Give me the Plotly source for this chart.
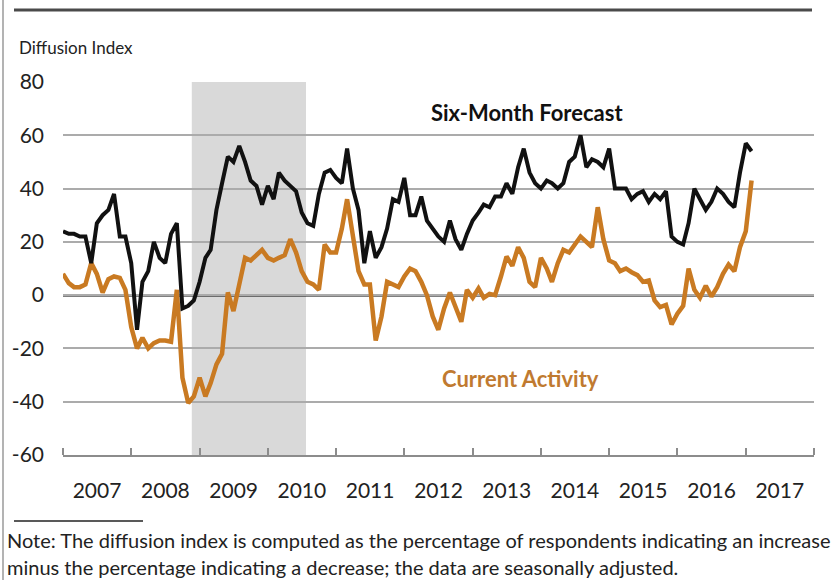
import plotly.graph_objects as go
import pandas as pd

# ---- data ----
months = pd.date_range("2007-01-01", periods=122, freq="MS")

six_month_forecast = [
    24, 23, 23, 22, 22, 12, 27, 30, 32, 38, 22, 22,        # 2007
    12, -13, 5, 9, 20, 14, 12, 23, 27, -5, -4, -2,         # 2008
    5, 14, 17, 32, 42, 52, 50, 56, 50, 43, 41, 34,         # 2009
    41, 36, 46, 43, 41, 39, 31, 27, 26, 38, 46, 47,        # 2010
    44, 42, 55, 40, 32, 12, 24, 14, 18, 25, 36, 35,        # 2011
    44, 30, 30, 37, 28, 25, 22, 20, 28, 21, 17, 23,        # 2012
    28, 31, 34, 33, 37, 37, 42, 38, 48, 55, 46, 42,        # 2013
    40, 43, 42, 40, 42, 50, 52, 60, 48, 51, 50, 48,        # 2014
    55, 40, 40, 40, 36, 38, 39, 35, 38, 36, 39, 22,        # 2015
    20, 19, 27, 40, 36, 32, 35, 40, 38, 35, 33, 46,        # 2016
    57, 54,                                                # 2017
]

current_activity = [
    8, 4.5, 3, 3, 4, 12, 8, 1, 6, 7, 6.5, 2,               # 2007
    -12, -20, -16, -20, -18, -17, -17, -17.5, 2, -31, -40.5, -38,  # 2008
    -31, -38, -33, -26, -22, 1, -6, 5, 14, 13, 15, 17,     # 2009
    14, 13, 14, 15, 21, 16, 9, 5, 4, 2, 19, 16,            # 2010
    16, 25, 36, 23, 9, 4, 4, -17, -8, 5, 4, 3,             # 2011
    7, 10, 9, 5, 0, -8, -13, -5, 1, -4, -10, 2,            # 2012
    -1, 2.5, -1, 0.5, 0, 7, 14.5, 11, 18, 14, 5, 3,        # 2013
    14, 10, 5, 12, 17, 16, 19, 22, 20, 18, 33, 21,         # 2014
    13, 12, 9, 10, 8.6, 7.5, 5, 5.5, -2, -4.5, -3.7, -11,  # 2015
    -7, -4, 10, 2, -1, 3.5, -0.5, 3, 8, 11.5, 9, 18,       # 2016
    24, 43,                                                # 2017
]

year_labels = [str(y) for y in range(2007, 2018)]
year_label_pos = [f"{y}-07-02" for y in range(2007, 2018)]
y_ticks = [-60, -40, -20, 0, 20, 40, 60, 80]
y_tick_text = [str(v) for v in y_ticks]

shade_start = "2008-11-20"
shade_end = "2010-07-24"

# ---- layout geometry ----
W, H = 836, 580
L, R, T, B = 63, 22, 82, 125
PW, PH = W - L - R, H - T - B


def px_x(px):
    return (px - L) / PW


def px_y(py):
    return (H - B - py) / PH


FONT = "Lato, 'Open Sans', sans-serif"
BLACK = "#111111"
ORANGE = "#c97a22"
GRID = "#ababab"

fig = go.Figure()
fig.add_trace(go.Scatter(x=months, y=current_activity, mode="lines",
                         line=dict(color=ORANGE, width=4.5), name="Current Activity",
                         hoverinfo="x+y"))
fig.add_trace(go.Scatter(x=months, y=six_month_forecast, mode="lines",
                         line=dict(color=BLACK, width=4), name="Six-Month Forecast",
                         hoverinfo="x+y"))

shapes = [
    dict(type="rect", xref="x", yref="paper", x0=shade_start, x1=shade_end,
         y0=0, y1=1, fillcolor="#d9d9d9", line=dict(width=0), layer="between"),
    dict(type="line", xref="paper", yref="y", x0=0, x1=1, y0=0, y1=0,
         line=dict(color="#000000", width=2.5), layer="between"),
    # top rule
    dict(type="line", xref="paper", yref="paper", x0=px_x(14), x1=px_x(812),
         y0=px_y(10), y1=px_y(10), line=dict(color="#4a4a4a", width=3)),
    # short footnote rule
    dict(type="line", xref="paper", yref="paper", x0=px_x(14), x1=px_x(143),
         y0=px_y(521), y1=px_y(521), line=dict(color="#222222", width=1.5)),
    # left border
    dict(type="line", xref="paper", yref="paper", x0=px_x(3), x1=px_x(3),
         y0=px_y(0), y1=px_y(580), line=dict(color="#9a9a9a", width=1.5)),
]

annotations = [
    dict(text="Diffusion Index", xref="paper", yref="paper", x=px_x(17), y=px_y(48),
         xanchor="left", yanchor="middle", showarrow=False,
         font=dict(family=FONT, size=17, color="#222222")),
    dict(text="<b>Six-Month Forecast</b>", xref="paper", yref="paper", x=px_x(527), y=px_y(112),
         xanchor="center", yanchor="middle", showarrow=False,
         font=dict(family=FONT, size=22, color="#111111")),
    dict(text="<b>Current Activity</b>", xref="paper", yref="paper", x=px_x(520), y=px_y(378),
         xanchor="center", yanchor="middle", showarrow=False,
         font=dict(family=FONT, size=22, color="#c07a30")),
    dict(text="Note: The diffusion index is computed as the percentage of respondents indicating an increase",
         xref="paper", yref="paper", x=px_x(5), y=px_y(540),
         xanchor="left", yanchor="middle", showarrow=False,
         font=dict(family=FONT, size=20, color="#222222")),
    dict(text="minus the percentage indicating a decrease; the data are seasonally adjusted.",
         xref="paper", yref="paper", x=px_x(5), y=px_y(567),
         xanchor="left", yanchor="middle", showarrow=False,
         font=dict(family=FONT, size=20, color="#222222")),
]

fig.update_layout(
    width=W, height=H,
    margin=dict(l=L, r=R, t=T, b=B, pad=0, autoexpand=False),
    paper_bgcolor="white", plot_bgcolor="white",
    showlegend=False,
    font=dict(family=FONT, color="#222222"),
    shapes=shapes,
    annotations=annotations,
    xaxis=dict(
        type="date", range=["2007-01-01", "2018-01-01"], automargin=False,
        tickmode="array", tickvals=year_label_pos, ticktext=year_labels,
        ticks="", showgrid=False, zeroline=False,
        showline=True, linecolor="#8c8c8c", linewidth=1.5,
        tickfont=dict(family=FONT, size=21, color="#222222"),
        ticklabelstandoff=16,
        minor=dict(dtick="M12", tick0="2007-01-01", ticks="inside", ticklen=7,
                   tickcolor="#8c8c8c", tickwidth=1.5, showgrid=False),
    ),
    yaxis=dict(
        range=[-60, 80], automargin=False, tickmode="array",
        tickvals=y_ticks, ticktext=y_tick_text,
        ticks="", showgrid=True, gridcolor=GRID, gridwidth=1.5,
        zeroline=False, showline=False,
        tickfont=dict(family=FONT, size=21, color="#222222"),
        ticklabelstandoff=18,
    ),
)

fig.write_html("out.html", config={"displayModeBar": False},
               post_script="document.body.style.margin='0px';")
